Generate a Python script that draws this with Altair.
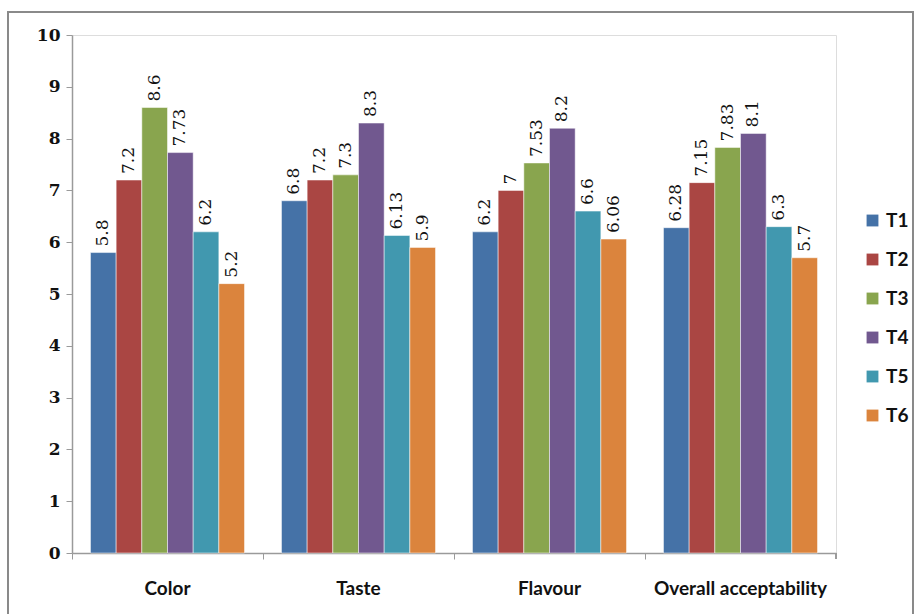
import altair as alt
import pandas as pd

categories = ["Color", "Taste", "Flavour", "Overall acceptability"]
series = ["T1", "T2", "T3", "T4", "T5", "T6"]
values = {
    "T1": [5.8, 6.8, 6.2, 6.28],
    "T2": [7.2, 7.2, 7.0, 7.15],
    "T3": [8.6, 7.3, 7.53, 7.83],
    "T4": [7.73, 8.3, 8.2, 8.1],
    "T5": [6.2, 6.13, 6.6, 6.3],
    "T6": [5.2, 5.9, 6.06, 5.7],
}
colors = ["#4572A7", "#AA4643", "#89A54E", "#71588F", "#4198AF", "#DB843D"]

rows = []
for s in series:
    for c, v in zip(categories, values[s]):
        rows.append({"category": c, "series": s, "value": v, "label": f"{v:g}"})
df = pd.DataFrame(rows)

W, H = 764, 518

x = alt.X("category:N", sort=categories, title=None,
          scale=alt.Scale(paddingInner=0, paddingOuter=0),
          axis=alt.Axis(labelAngle=0, labelFont="Lato", labelFontWeight="bold",
                        labelFontSize=19, labelColor="#111", labelPadding=20,
                        domainColor="#9a9a9a", tickColor="#9a9a9a", tickSize=6,
                        bandPosition=0, domainWidth=1.5))
xo = alt.XOffset("series:N", sort=series, scale=alt.Scale(paddingOuter=0.72, paddingInner=0))
y = alt.Y("value:Q", title=None,
          scale=alt.Scale(domain=[0, 10], nice=False),
          axis=alt.Axis(values=list(range(0, 11)), grid=False, labelFont="DejaVu Serif",
                        labelFontWeight="bold", labelFontSize=17, labelColor="#111",
                        domainColor="#9a9a9a", tickColor="#9a9a9a", tickSize=6,
                        labelPadding=6, domainWidth=1.5))
color = alt.Color("series:N", sort=series, scale=alt.Scale(domain=series, range=colors),
                  legend=alt.Legend(title=None, orient="none", legendX=791, legendY=176,
                                    symbolType="square", symbolSize=140, symbolStrokeWidth=0,
                                    labelFont="Lato", labelFontWeight="bold", labelFontSize=19,
                                    labelColor="#111", rowPadding=19, labelOffset=4))

bars = alt.Chart(df).mark_bar(stroke="white", strokeWidth=0.5).encode(
    x=x, xOffset=xo, y=y, color=color)

labels = alt.Chart(df).mark_text(angle=270, align="left", baseline="middle", dx=6,
                                  font="DejaVu Serif", fontSize=17, color="#111").encode(
    x=alt.X("category:N", sort=categories),
    xOffset=xo, y="value:Q", text="label:N")

end_tick = alt.Chart(df).mark_rule(color="#9a9a9a", strokeWidth=1).encode(
    x=alt.value(W), y=alt.value(H), y2=alt.value(H + 6))

border = alt.Chart(df).mark_rect(fill=None, stroke="#8a8a8a", strokeWidth=1.2).encode(
    x=alt.value(-64), x2=alt.value(W + 77), y=alt.value(-23), y2=alt.value(H + 80))

chart = alt.layer(border, bars, labels, end_tick).properties(
    width=W, height=H,
    autosize=alt.AutoSizeParams(type="none"),
    padding={"left": 72, "top": 35, "right": 81, "bottom": 61},
).configure_view(stroke=None).configure(background="white")

chart.save("out.html", embed_options={"renderer": "svg", "actions": False})
